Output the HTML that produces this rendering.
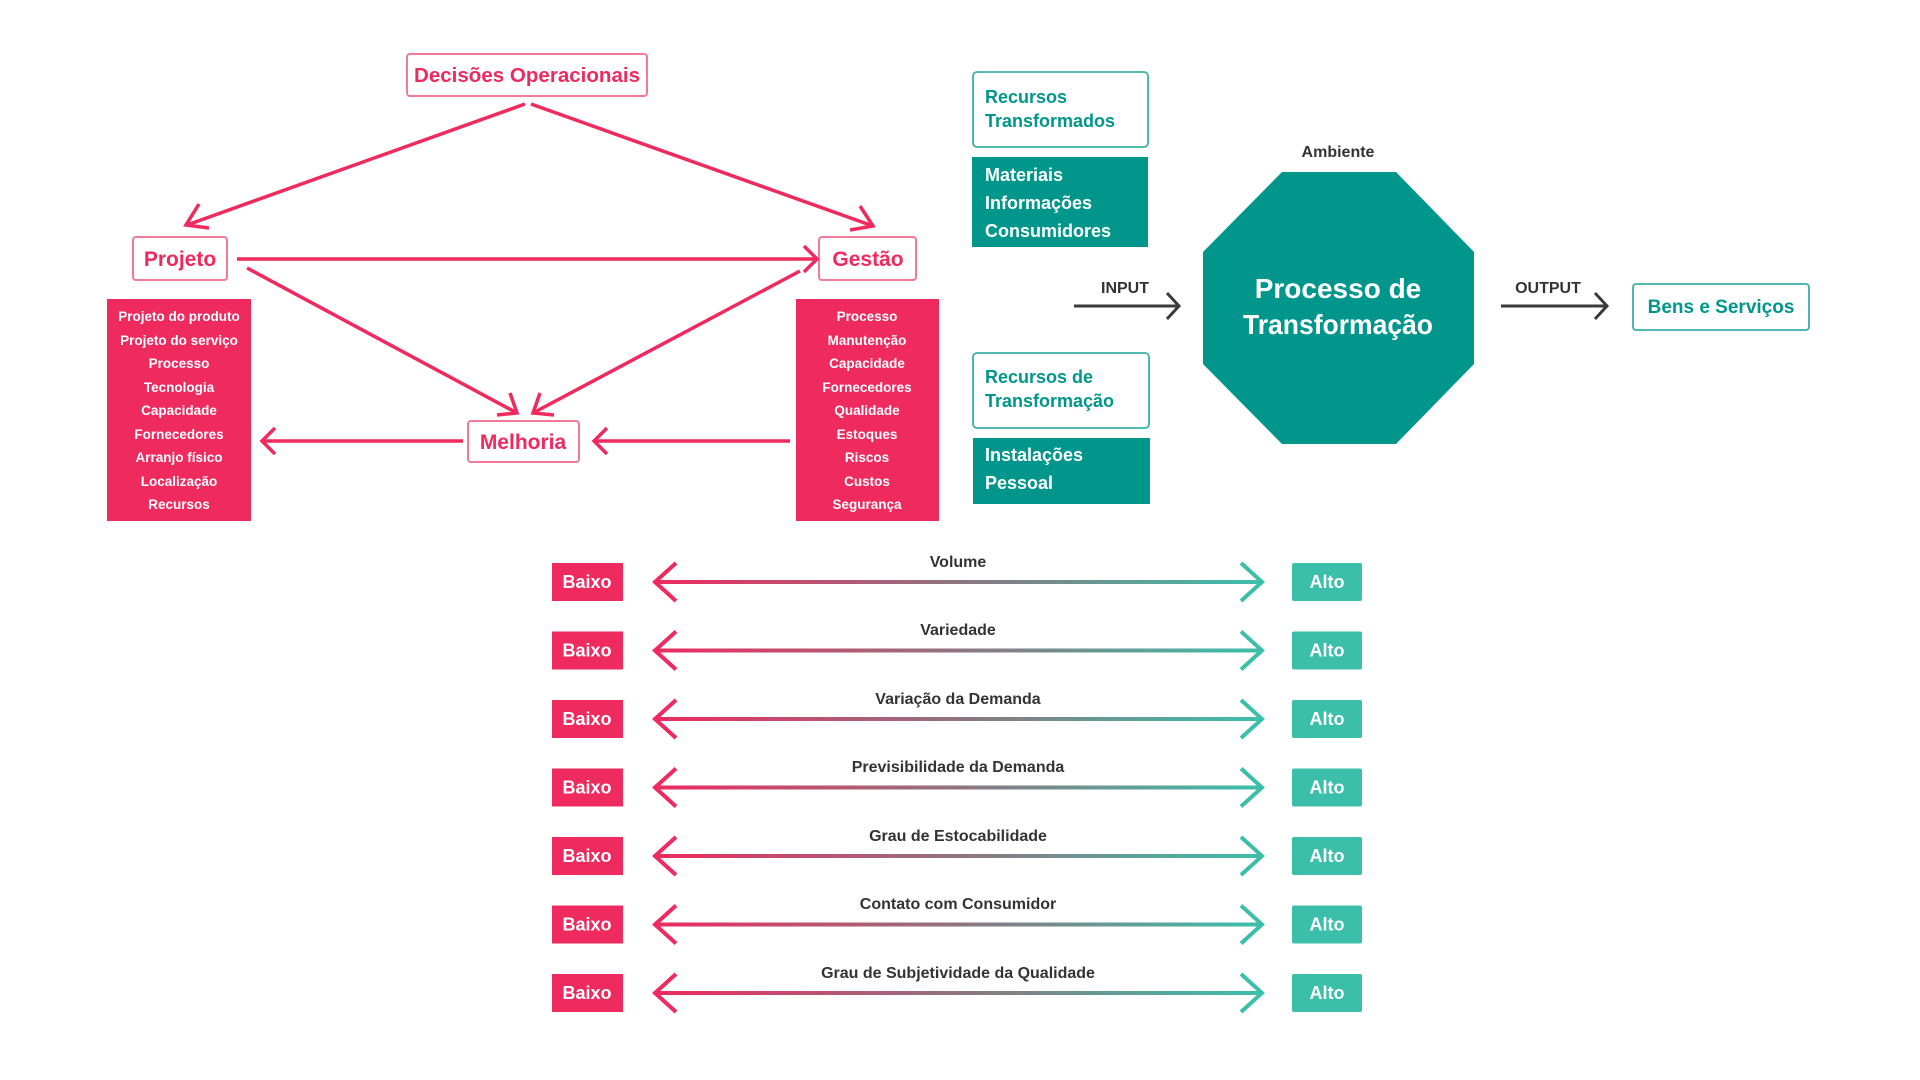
<!DOCTYPE html>
<html><head><meta charset="utf-8"><style>
html,body{margin:0;padding:0;background:#fff;}
svg{display:block;}
text{font-family:"Liberation Sans Narrow","Liberation Sans",sans-serif;font-weight:bold;}
</style></head><body>
<svg width="1920" height="1080" viewBox="0 0 1920 1080" xmlns="http://www.w3.org/2000/svg">
<defs>
<linearGradient id="g" gradientUnits="userSpaceOnUse" x1="655" x2="1262" y1="0" y2="0">
<stop offset="0" stop-color="#EE2A5F"/><stop offset="0.5" stop-color="#8E7580"/><stop offset="1" stop-color="#3CBFAA"/>
</linearGradient>
</defs>
<g fill="none" stroke="#EE2A5F" stroke-width="3.5">
<rect x="407" y="54" width="240" height="42" rx="3" fill="#fff" stroke-width="2" stroke="#F07A98"/>
<rect x="133" y="237" width="94" height="43" rx="3" fill="#fff" stroke-width="2" stroke="#F07A98"/>
<rect x="819" y="237" width="97" height="43" rx="3" fill="#fff" stroke-width="2" stroke="#F07A98"/>
<rect x="468" y="421" width="111" height="41" rx="3" fill="#fff" stroke-width="2" stroke="#F07A98"/>
<line x1="525" y1="104" x2="187" y2="225"/><polyline points="199,204 186,225 209,228"/>
<line x1="531" y1="104" x2="873" y2="226"/><polyline points="860,206 873,226 850,230"/>
<line x1="237" y1="259" x2="817" y2="259"/><polyline points="804,246 817,259 804,272"/>
<line x1="247" y1="268" x2="517" y2="413"/><polyline points="510,393 517,413 497,415"/>
<line x1="800" y1="271" x2="533" y2="413"/><polyline points="540,393 533,413 554,415"/>
<line x1="790" y1="441" x2="594" y2="441"/><polyline points="607,428 594,441 607,454"/>
<line x1="463" y1="441" x2="262" y2="441"/><polyline points="275,428 262,441 275,454"/>
</g>
<text x="527" y="82" font-size="20" fill="#EE2A5F" text-anchor="middle" textLength="226" lengthAdjust="spacingAndGlyphs">Decisões Operacionais</text>
<text x="180" y="266" font-size="21" fill="#EE2A5F" text-anchor="middle">Projeto</text>
<text x="868" y="266" font-size="21" fill="#EE2A5F" text-anchor="middle">Gestão</text>
<text x="523" y="449" font-size="21" fill="#EE2A5F" text-anchor="middle">Melhoria</text>
<rect x="107" y="299" width="144" height="222" fill="#EE2A5F"/>
<rect x="796" y="299" width="143" height="222" fill="#EE2A5F"/>
<g font-size="13.5" fill="#fff" text-anchor="middle">
<text x="179" y="321">Projeto do produto</text><text x="179" y="345">Projeto do serviço</text><text x="179" y="368">Processo</text><text x="179" y="392">Tecnologia</text><text x="179" y="415">Capacidade</text><text x="179" y="439">Fornecedores</text><text x="179" y="462">Arranjo físico</text><text x="179" y="486">Localização</text><text x="179" y="509">Recursos</text>
<text x="867" y="321">Processo</text><text x="867" y="345">Manutenção</text><text x="867" y="368">Capacidade</text><text x="867" y="392">Fornecedores</text><text x="867" y="415">Qualidade</text><text x="867" y="439">Estoques</text><text x="867" y="462">Riscos</text><text x="867" y="486">Custos</text><text x="867" y="509">Segurança</text>
</g>
<!-- right -->
<rect x="973" y="72" width="175" height="75" rx="4" fill="#fff" stroke="#3BB0A6" stroke-width="1.8"/>
<text x="985" y="103" font-size="18" fill="#00968C">Recursos</text>
<text x="985" y="127" font-size="18" fill="#00968C">Transformados</text>
<rect x="972" y="157" width="176" height="90" fill="#00968C"/>
<g font-size="18" fill="#fff"><text x="985" y="181">Materiais</text><text x="985" y="209">Informações</text><text x="985" y="237">Consumidores</text></g>
<rect x="973" y="353" width="176" height="75" rx="4" fill="#fff" stroke="#3BB0A6" stroke-width="1.8"/>
<text x="985" y="383" font-size="18" fill="#00968C">Recursos de</text>
<text x="985" y="407" font-size="18" fill="#00968C">Transformação</text>
<rect x="973" y="438" width="177" height="66" fill="#00968C"/>
<g font-size="18" fill="#fff"><text x="985" y="461">Instalações</text><text x="985" y="489">Pessoal</text></g>
<text x="1338" y="157" font-size="16" fill="#333" text-anchor="middle" font-weight="normal">Ambiente</text>
<polygon points="1282,172 1396,172 1474,252 1474,364 1396,444 1282,444 1203,364 1203,252" fill="#00968C"/>
<text x="1338" y="298" font-size="28" fill="#fff" text-anchor="middle">Processo de</text>
<text x="1338" y="334" font-size="28" fill="#fff" text-anchor="middle" textLength="190" lengthAdjust="spacingAndGlyphs">Transformação</text>
<text x="1125" y="293" font-size="16" fill="#333" text-anchor="middle">INPUT</text>
<text x="1548" y="293" font-size="16" fill="#333" text-anchor="middle">OUTPUT</text>
<g stroke="#3a3a3a" stroke-width="3" fill="none">
<line x1="1074" y1="306" x2="1179" y2="306"/><polyline points="1167,293 1179,306 1167,319"/>
<line x1="1501" y1="306" x2="1607" y2="306"/><polyline points="1595,293 1607,306 1595,319"/>
</g>
<rect x="1633" y="284" width="176" height="46" rx="3" fill="#fff" stroke="#3BB0A6" stroke-width="1.8"/>
<text x="1721" y="313" font-size="19" fill="#00968C" text-anchor="middle">Bens e Serviços</text>
<!-- rows -->
<g id="rows">
<rect x="552" y="563" width="71" height="38" fill="#EE2A5F"/><text x="587" y="588" font-size="18" fill="#fff" text-anchor="middle">Baixo</text>
<rect x="1292" y="563" width="70" height="38" rx="2" fill="#3CBFAA"/><text x="1327" y="588" font-size="18" fill="#fff" text-anchor="middle">Alto</text>
</g>
<g font-size="16" fill="#333" text-anchor="middle">
<text x="958" y="567">Volume</text>
<text x="958" y="635">Variedade</text>
<text x="958" y="704">Variação da Demanda</text>
<text x="958" y="772">Previsibilidade da Demanda</text>
<text x="958" y="841">Grau de Estocabilidade</text>
<text x="958" y="909">Contato com Consumidor</text>
<text x="958" y="978">Grau de Subjetividade da Qualidade</text>
</g>
<g id="r" fill="none" stroke-width="4">
<line x1="656" y1="582" x2="1260" y2="582" stroke="url(#g)"/>
<polyline points="676,563 655,582 676,601" stroke="#EE2A5F"/>
<polyline points="1241,563 1262,582 1241,601" stroke="#3CBFAA"/>
</g>
<use href="#rows" y="68.5"/><use href="#r" y="68.5"/>
<use href="#rows" y="137"/><use href="#r" y="137"/>
<use href="#rows" y="205.5"/><use href="#r" y="205.5"/>
<use href="#rows" y="274"/><use href="#r" y="274"/>
<use href="#rows" y="342.5"/><use href="#r" y="342.5"/>
<use href="#rows" y="411"/><use href="#r" y="411"/>
</svg>
</body></html>
